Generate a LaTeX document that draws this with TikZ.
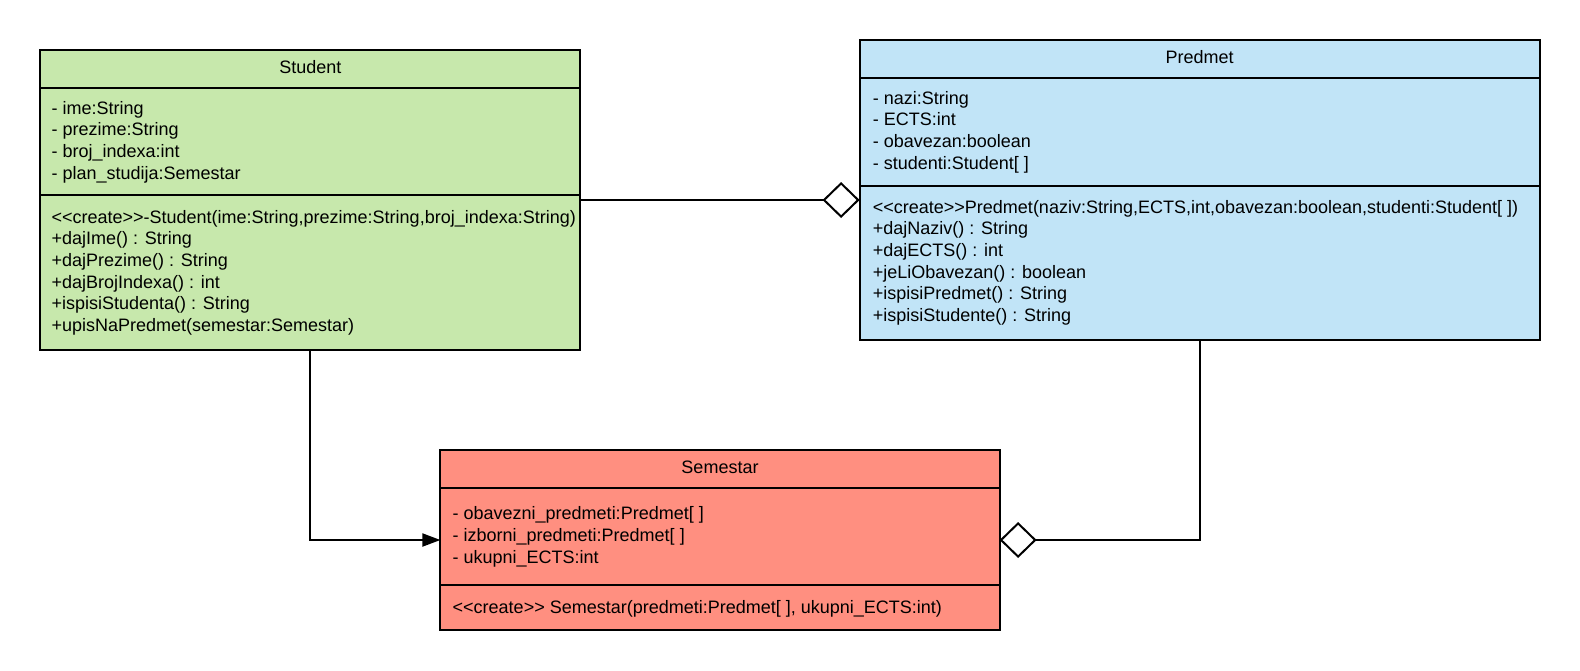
\documentclass[tikz,border=0pt]{standalone}
\usepackage{fontspec}
\setmainfont{Liberation Sans}
\usetikzlibrary{arrows.meta}
\definecolor{sgreen}{HTML}{C7E8AC}
\definecolor{sblue}{HTML}{C1E4F7}
\definecolor{sred}{HTML}{FF8F80}
\begin{document}
\begin{tikzpicture}[x=1pt,y=-1pt,
  box/.style={draw=black,line width=2pt,rectangle,inner sep=0pt,outer sep=0pt},
  sepline/.style={draw=black,line width=2pt},
  txt/.style={anchor=base west,inner sep=0pt,font=\fontsize{18}{21.6}\selectfont},
  title/.style={anchor=base,inner sep=0pt,font=\fontsize{18}{21.6}\selectfont},
  conn/.style={draw=black,line width=2pt},
  aggr/.style={conn,-{Diamond[length=37pt,width=36pt,fill=white]}},
  nav/.style={conn,-{Triangle[length=18pt,width=13pt]}}]
\useasboundingbox (0,0) rectangle (1580,670);

% boxes
\node[box,fill=sgreen,minimum width=540.1pt,minimum height=300pt] (student) at (310.35,200) {};
\node[box,fill=sblue,minimum width=680.2pt,minimum height=300pt] (predmet) at (1199.7,190) {};
\node[box,fill=sred,minimum width=559.2pt,minimum height=180pt] (semestar) at (720,540) {};

% compartment lines
\draw[sepline] (student.west |- 0,87.7) -- (student.east |- 0,87.7);
\draw[sepline] (student.west |- 0,195) -- (student.east |- 0,195);
\draw[sepline] (predmet.west |- 0,77.7) -- (predmet.east |- 0,77.7);
\draw[sepline] (predmet.west |- 0,185.7) -- (predmet.east |- 0,185.7);
\draw[sepline] (semestar.west |- 0,487.7) -- (semestar.east |- 0,487.7);
\draw[sepline] (semestar.west |- 0,585) -- (semestar.east |- 0,585);

% Student
\node[title] (st-title) at (310.35,73.2) {Student};
\foreach \t [count=\i] in {{- ime:String},{- prezime:String},{- broj\_indexa:int},{- plan\_studija:Semestar}}
  \node[txt] (st-a\i) at (51.4,{114.2+21.6*(\i-1)}) {\t};
\foreach \t [count=\i] in {{<{}<create>{}>-Student(ime:String,prezime:String,broj\_indexa:String)},{+dajIme() : String},{+dajPrezime() : String},{+dajBrojIndexa() : int},{+ispisiStudenta() : String},{+upisNaPredmet(semestar:Semestar)}}
  \node[txt] (st-m\i) at (51.4,{223.2+21.6*(\i-1)}) {\t};

% Predmet
\node[title] (pr-title) at (1199.7,63.2) {Predmet};
\foreach \t [count=\i] in {{- nazi:String},{- ECTS:int},{- obavezan:boolean},{- studenti:Student[ ]}}
  \node[txt] (pr-a\i) at (872.7,{104.2+21.6*(\i-1)}) {\t};
\foreach \t [count=\i] in {{<{}<create>{}>Predmet(naziv:String,ECTS,int,obavezan:boolean,studenti:Student[ ])},{+dajNaziv() : String},{+dajECTS() : int},{+jeLiObavezan() : boolean},{+ispisiPredmet() : String},{+ispisiStudente() : String}}
  \node[txt] (pr-m\i) at (872.7,{213.2+21.6*(\i-1)}) {\t};

% Semestar
\node[title] (se-title) at (720,473.2) {Semestar};
\foreach \t [count=\i] in {{- obavezni\_predmeti:Predmet[ ]},{- izborni\_predmeti:Predmet[ ]},{- ukupni\_ECTS:int}}
  \node[txt] (se-a\i) at (452.5,{519.8+21.6*(\i-1)}) {\t};
\node[txt] (se-m1) at (452.5,613.2) {<{}<create>{}> Semestar(predmeti:Predmet[ ], ukupni\_ECTS:int)};

% connectors
\draw[aggr] (student.east) -- (student.east -| predmet.west);
\draw[nav] (student.south) |- (semestar.west);
\draw[aggr] (predmet.south) |- (semestar.east);
\end{tikzpicture}
\end{document}
